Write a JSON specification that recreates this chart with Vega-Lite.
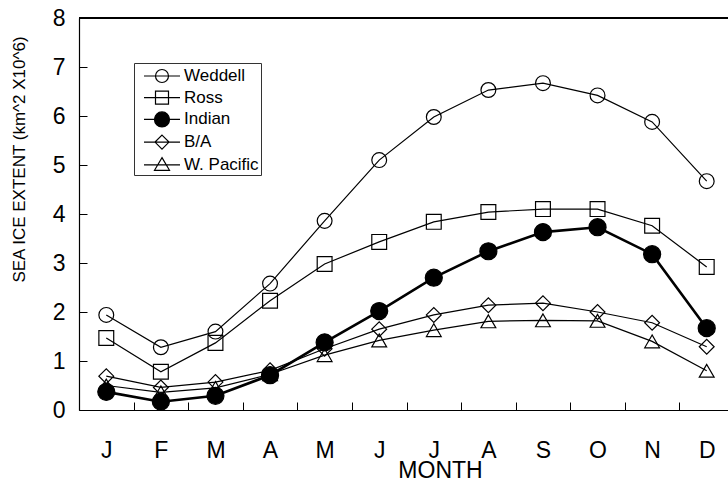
{
  "$schema": "https://vega.github.io/schema/vega-lite/v6.json",
  "autosize": "none",
  "width": 649,
  "height": 392,
  "padding": {"left": 79, "top": 18, "right": 0, "bottom": 71},
  "background": "white",
  "config": {
    "view": {"stroke": null},
    "font": "Liberation Sans",
    "axis": {"grid": false, "domainColor": "black", "tickColor": "black", "labelColor": "black", "titleColor": "black", "titleFontWeight": "normal", "domainWidth": 1.2, "tickWidth": 1},
    "legend": {
      "title": null, "orient": "none", "legendX": 55, "legendY": 45,
      "strokeColor": "#333", "fillColor": "white", "padding": 2, "rowPadding": 1.7,
      "symbolSize": 400, "symbolOpacity": 1, "symbolStrokeColor": "black",
      "labelFontSize": 17, "labelOffset": 26, "labelColor": "black"
    }
  },
  "data": {"values": [
    {"month": "Jan", "region": "Weddell", "value": 1.94},
    {"month": "Feb", "region": "Weddell", "value": 1.28},
    {"month": "Mar", "region": "Weddell", "value": 1.6},
    {"month": "Apr", "region": "Weddell", "value": 2.58},
    {"month": "May", "region": "Weddell", "value": 3.86},
    {"month": "Jun", "region": "Weddell", "value": 5.1},
    {"month": "Jul", "region": "Weddell", "value": 5.98},
    {"month": "Aug", "region": "Weddell", "value": 6.53},
    {"month": "Sep", "region": "Weddell", "value": 6.67},
    {"month": "Oct", "region": "Weddell", "value": 6.42},
    {"month": "Nov", "region": "Weddell", "value": 5.88},
    {"month": "Dec", "region": "Weddell", "value": 4.67},
    {"month": "Jan", "region": "Ross", "value": 1.47},
    {"month": "Feb", "region": "Ross", "value": 0.78},
    {"month": "Mar", "region": "Ross", "value": 1.37},
    {"month": "Apr", "region": "Ross", "value": 2.23},
    {"month": "May", "region": "Ross", "value": 2.98},
    {"month": "Jun", "region": "Ross", "value": 3.43},
    {"month": "Jul", "region": "Ross", "value": 3.84},
    {"month": "Aug", "region": "Ross", "value": 4.04},
    {"month": "Sep", "region": "Ross", "value": 4.1},
    {"month": "Oct", "region": "Ross", "value": 4.1},
    {"month": "Nov", "region": "Ross", "value": 3.76},
    {"month": "Dec", "region": "Ross", "value": 2.92},
    {"month": "Jan", "region": "Indian", "value": 0.37},
    {"month": "Feb", "region": "Indian", "value": 0.17},
    {"month": "Mar", "region": "Indian", "value": 0.29},
    {"month": "Apr", "region": "Indian", "value": 0.71},
    {"month": "May", "region": "Indian", "value": 1.38},
    {"month": "Jun", "region": "Indian", "value": 2.02},
    {"month": "Jul", "region": "Indian", "value": 2.7},
    {"month": "Aug", "region": "Indian", "value": 3.24},
    {"month": "Sep", "region": "Indian", "value": 3.63},
    {"month": "Oct", "region": "Indian", "value": 3.73},
    {"month": "Nov", "region": "Indian", "value": 3.18},
    {"month": "Dec", "region": "Indian", "value": 1.67},
    {"month": "Jan", "region": "B/A", "value": 0.69},
    {"month": "Feb", "region": "B/A", "value": 0.46},
    {"month": "Mar", "region": "B/A", "value": 0.57},
    {"month": "Apr", "region": "B/A", "value": 0.81},
    {"month": "May", "region": "B/A", "value": 1.25},
    {"month": "Jun", "region": "B/A", "value": 1.65},
    {"month": "Jul", "region": "B/A", "value": 1.94},
    {"month": "Aug", "region": "B/A", "value": 2.14},
    {"month": "Sep", "region": "B/A", "value": 2.18},
    {"month": "Oct", "region": "B/A", "value": 2.0},
    {"month": "Nov", "region": "B/A", "value": 1.78},
    {"month": "Dec", "region": "B/A", "value": 1.29},
    {"month": "Jan", "region": "W. Pacific", "value": 0.5},
    {"month": "Feb", "region": "W. Pacific", "value": 0.36},
    {"month": "Mar", "region": "W. Pacific", "value": 0.45},
    {"month": "Apr", "region": "W. Pacific", "value": 0.73},
    {"month": "May", "region": "W. Pacific", "value": 1.12},
    {"month": "Jun", "region": "W. Pacific", "value": 1.42},
    {"month": "Jul", "region": "W. Pacific", "value": 1.63},
    {"month": "Aug", "region": "W. Pacific", "value": 1.81},
    {"month": "Sep", "region": "W. Pacific", "value": 1.83},
    {"month": "Oct", "region": "W. Pacific", "value": 1.82},
    {"month": "Nov", "region": "W. Pacific", "value": 1.4},
    {"month": "Dec", "region": "W. Pacific", "value": 0.8}
  ]},
  "encoding": {
    "x": {
      "field": "month", "type": "ordinal",
      "sort": ["Jan","Feb","Mar","Apr","May","Jun","Jul","Aug","Sep","Oct","Nov","Dec"],
      "scale": {"type": "band", "paddingInner": 0, "paddingOuter": 0, "range": [0, 655]},
      "axis": {
        "title": "MONTH", "titleFontSize": 23, "titleX": 361, "titleY": 49, "titleBaseline": "top",
        "labelExpr": "substring(datum.label, 0, 1)", "labelAngle": 0,
        "labelFontSize": 23, "labelPadding": 37, "tickSize": -8, "tickBand": "extent"
      }
    },
    "y": {
      "field": "value", "type": "quantitative",
      "scale": {"domain": [0, 8], "nice": false, "zero": true},
      "axis": {
        "title": "SEA ICE EXTENT (km^2 X10^6)", "titleFontSize": 17, "titleX": -60, "titleY": 141, "titleBaseline": "middle", "titleAngle": 270,
        "values": [0,1,2,3,4,5,6,7,8], "labelFontSize": 23, "labelPadding": 22, "tickSize": -8
      }
    }
  },
  "layer": [
    {
      "mark": {"type": "rule", "color": "black", "strokeWidth": 1.2},
      "encoding": {"x": null, "y": {"datum": 8, "type": "quantitative"}}
    },
    {
      "mark": {"type": "line", "color": "black"},
      "encoding": {
        "detail": {"field": "region"},
        "strokeWidth": {"condition": {"test": "datum.region === 'Indian'", "value": 2.6}, "value": 1.2}
      }
    },
    {
      "mark": {"type": "point", "filled": true, "stroke": "black", "strokeWidth": 1.2, "opacity": 1,
        "shape": {"expr": "datum.region === 'Ross' ? 'square' : datum.region === 'B/A' ? 'diamond' : datum.region === 'W. Pacific' ? 'triangle-up' : 'circle'"}},
      "encoding": {
        "fill": {"condition": {"test": "datum.region === 'Indian'", "value": "black"}, "value": "transparent"},
        "size": {"condition": {"test": "datum.region === 'Indian'", "value": 290}, "value": 220}
      }
    },
    {
      "mark": {"type": "point", "filled": true, "opacity": 0},
      "encoding": {
        "shape": {"field": "region", "type": "nominal",
          "scale": {"domain": ["Weddell","Ross","Indian","B/A","W. Pacific"],
            "range": [
              "M-0.3,0H3.3M2.15,0A0.65,0.65 0 1,1 0.85,0A0.65,0.65 0 1,1 2.15,0Z",
              "M-0.3,0H3.3M0.85,-0.65H2.15V0.65H0.85Z",
              "M-0.3,0H3.3M2.25,0A0.75,0.75 0 1,1 0.75,0A0.75,0.75 0 1,1 2.25,0Z",
              "M-0.3,0H3.3M1.5,-0.7L2.2,0L1.5,0.7L0.8,0Z",
              "M-0.3,0H3.3M1.5,-0.72L2.25,0.55L0.75,0.55Z"
            ]}},
        "fill": {"field": "region", "type": "nominal",
          "scale": {"domain": ["Weddell","Ross","Indian","B/A","W. Pacific"], "range": ["transparent","transparent","black","transparent","transparent"]}},
        "stroke": {"field": "region", "type": "nominal",
          "scale": {"domain": ["Weddell","Ross","Indian","B/A","W. Pacific"], "range": ["black","black","black","black","black"]}},
        "strokeWidth": {"field": "region", "type": "nominal",
          "scale": {"domain": ["Weddell","Ross","Indian","B/A","W. Pacific"], "range": [1.2, 1.2, 2.4, 1.2, 1.2]}}
      }
    }
  ]
}
